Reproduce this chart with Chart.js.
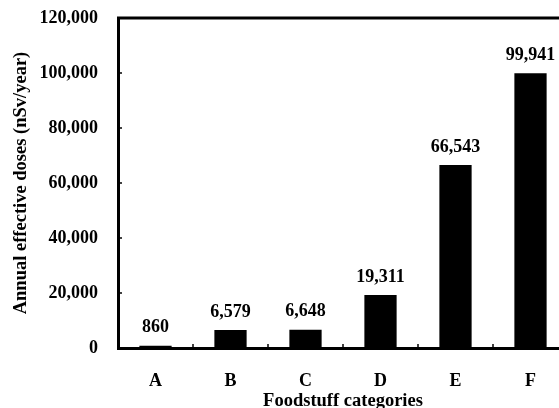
<!DOCTYPE html>
<html>
<head>
<meta charset="utf-8">
<script src="https://cdn.jsdelivr.net/npm/chart.js@4/dist/chart.umd.min.js"></script>
<style>
    html, body { margin: 0; padding: 0; background: #fff; overflow: hidden; }
    #wrap { width: 570px; height: 408px; }
</style>
</head>
<body>
<div id="wrap"><canvas id="doseChart"></canvas></div>
<script>
// Foodstuff categories and annual effective doses (nSv/year)
const categories = ['A', 'B', 'C', 'D', 'E', 'F'];
const doses = [860, 6579, 6648, 19311, 66543, 99941];
const yTicks = [0, 20000, 40000, 60000, 80000, 100000, 120000];

const FONT = '"Liberation Serif", "Times New Roman", serif';

function fmt(v) {
    return v.toLocaleString('en-US');
}

// value labels above bars, top frame line and inward tick marks
const extras = {
    id: 'extras',
    afterDatasetsDraw(chart) {
        const ctx = chart.ctx;
        const area = chart.chartArea;
        const x = chart.scales.x;
        const y = chart.scales.y;

        ctx.save();
        ctx.strokeStyle = '#000';
        ctx.lineWidth = 3;
        ctx.beginPath();
        ctx.moveTo(area.left - 1, area.top);
        ctx.lineTo(area.right, area.top);
        ctx.stroke();

        ctx.lineWidth = 1.5;
        yTicks.forEach(function (v) {
            const py = y.getPixelForValue(v);
            ctx.beginPath();
            ctx.moveTo(area.left, py);
            ctx.lineTo(area.left + 4, py);
            ctx.stroke();
        });
        for (let i = 0; i <= categories.length; i++) {
            const px = x.getPixelForValue(i - 0.5);
            ctx.beginPath();
            ctx.moveTo(px, area.bottom);
            ctx.lineTo(px, area.bottom - 4);
            ctx.stroke();
        }

        ctx.fillStyle = '#000';
        ctx.font = 'bold 18px ' + FONT;
        ctx.textAlign = 'center';
        ctx.textBaseline = 'bottom';
        chart.getDatasetMeta(0).data.forEach(function (bar, i) {
            ctx.fillText(fmt(doses[i]), bar.x, bar.y - 9);
        });
        ctx.restore();
    },
};

new Chart(document.getElementById('doseChart'), {
    type: 'bar',
    data: {
        labels: categories,
        datasets: [
            {
                data: doses,
                backgroundColor: '#000',
                borderWidth: 0,
                barPercentage: 0.86,
                categoryPercentage: 0.5,
            },
        ],
    },
    options: {
        responsive: true,
        maintainAspectRatio: false,
        animation: false,
        layout: {
            padding: { top: 18, right: 2, left: 0, bottom: 0 },
        },
        plugins: {
            legend: { display: false },
            tooltip: { enabled: false },
        },
        scales: {
            x: {
                grid: { display: false, drawTicks: false },
                border: { display: true, color: '#000', width: 3 },
                ticks: {
                    color: '#000',
                    padding: 23,
                    font: { family: FONT, size: 18, weight: 'bold' },
                },
                title: {
                    display: true,
                    text: 'Foodstuff categories',
                    color: '#000',
                    padding: { top: 0, bottom: -4 },
                    font: { family: FONT, size: 18.5, weight: 'bold' },
                },
                afterFit: function (scale) {
                    scale.height = 60;
                },
            },
            y: {
                min: 0,
                max: 120000,
                grid: { display: false, drawTicks: false },
                border: { display: true, color: '#000', width: 3 },
                ticks: {
                    stepSize: 20000,
                    color: '#000',
                    padding: 20,
                    font: { family: FONT, size: 18, weight: 'bold' },
                    callback: function (value) {
                        return fmt(value);
                    },
                },
                title: {
                    display: true,
                    text: 'Annual effective doses (nSv/year)',
                    color: '#000',
                    padding: { top: 10, bottom: 0 },
                    font: { family: FONT, size: 18.5, weight: 'bold' },
                },
                afterFit: function (scale) {
                    scale.width = 118;
                    scale.paddingTop = 0;
                    scale.paddingBottom = 0;
                },
            },
        },
    },
    plugins: [extras],
});
</script>
</body>
</html>
